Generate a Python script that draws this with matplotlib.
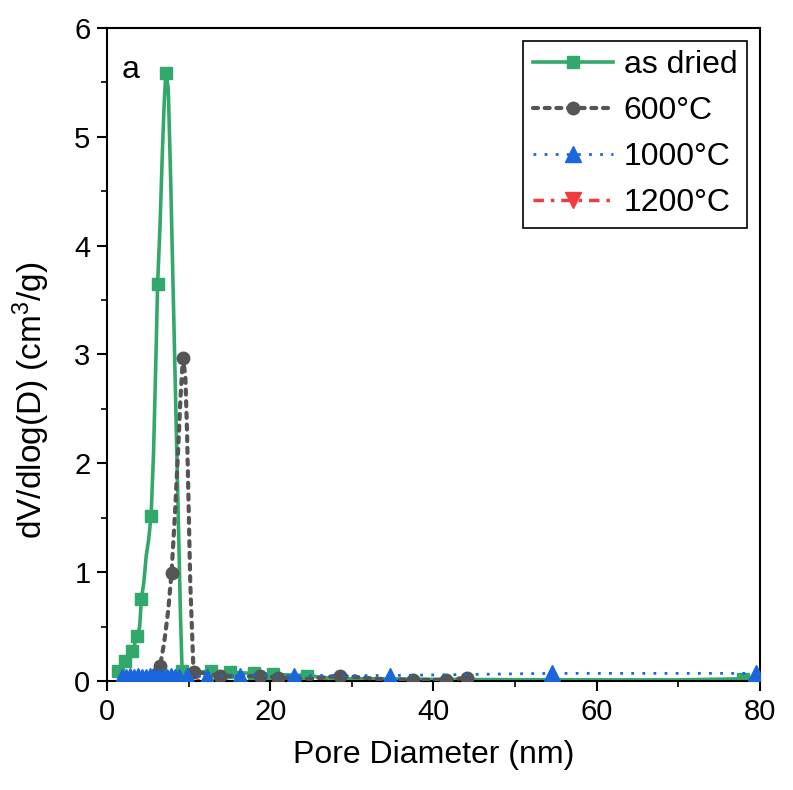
import matplotlib
matplotlib.use("Agg")
import matplotlib.pyplot as plt
from matplotlib.lines import Line2D
from matplotlib.ticker import MultipleLocator

plt.rcParams['font.family'] = ['Liberation Sans', 'DejaVu Sans']
plt.rcParams['mathtext.fontset'] = 'custom'
plt.rcParams['mathtext.rm'] = 'Liberation Sans'
plt.rcParams['mathtext.it'] = 'Liberation Sans'

# as dried
x_dried = [1.3, 1.8, 2.2, 2.6, 3.0, 3.3, 3.7, 4.0, 4.2, 4.5, 4.8, 5.1, 5.4, 5.7, 6.0, 6.2, 6.5, 6.8, 7.0,
           7.2, 7.5, 7.8, 8.1, 8.4, 8.7, 9.0, 9.2, 10.0, 11.0, 12.7, 15.1, 18.0, 20.4, 24.5, 28, 33, 40,
           50, 60, 70, 78, 80]
y_dried = [0.09, 0.11, 0.18, 0.2, 0.28, 0.32, 0.41, 0.5, 0.75, 0.9, 1.15, 1.3, 1.52, 2.1, 3.0, 3.65, 4.2,
           4.9, 5.3, 5.59, 5.45, 4.6, 3.6, 2.6, 1.6, 0.6, 0.09, 0.09, 0.08, 0.09, 0.08, 0.07, 0.06, 0.05,
           0.02, 0.02, 0.015, 0.012, 0.01, 0.01, 0.02, 0.01]
mk_dried = [0, 2, 4, 6, 8, 12, 15, 19, 26, 29, 30, 31, 32, 33, 40]

# 600 C
x_600 = [1.5, 3.0, 4.5, 5.5, 6.5, 7.0, 7.5, 7.9, 8.3, 8.7, 9.0, 9.3, 9.6, 9.8, 10.0, 10.2, 10.6, 12.0,
         13.9, 16.5, 18.8, 21.0, 25.0, 28.6, 33, 37.5, 41.6, 44.1]
y_600 = [0.02, 0.03, 0.05, 0.08, 0.14, 0.35, 0.65, 0.99, 1.5, 2.1, 2.6, 2.97, 2.8, 2.3, 1.6, 0.9, 0.08,
         0.07, 0.05, 0.04, 0.05, 0.03, 0.02, 0.05, 0.02, 0.01, 0.01, 0.03]
mk_600 = [4, 7, 11, 16, 18, 20, 21, 23, 25, 26, 27]

# 1000 C
x_1000 = [1.8, 2.3, 2.8, 3.3, 3.8, 4.3, 4.8, 5.3, 5.8, 6.3, 6.8, 7.3, 7.8, 8.3, 8.8, 9.8, 12.2, 16.3,
          22.9, 34.7, 54.5, 79.6]
y_1000 = [0.04, 0.04, 0.05, 0.04, 0.05, 0.04, 0.04, 0.05, 0.04, 0.04, 0.05, 0.04, 0.05, 0.04, 0.04,
          0.05, 0.04, 0.05, 0.05, 0.05, 0.07, 0.07]

# 1200 C
x_1200 = [2.0, 4.0, 6.0, 8.0, 10.0, 15.0, 20.0, 30.0, 40.0, 60.0, 80.0]
y_1200 = [0.01, 0.01, 0.01, 0.01, 0.01, 0.01, 0.01, 0.01, 0.01, 0.01, 0.01]
mk_1200 = [1, 2, 3]

labels = ['as dried', '600\u00b0C', '1000\u00b0C', '1200\u00b0C']

green = '#33a86b'
gray = '#555555'
blue = '#1a66dd'
red = '#f03c3c'

st_dried = dict(color=green, lw=2.6, ls='-', marker='s', ms=9)
st_600 = dict(color=gray, lw=3, ls=(0, (1.2, 1.6)), marker='o', ms=9, dash_capstyle='round')
st_1000 = dict(color=blue, lw=2, ls=(0, (1, 3)), marker='^', ms=11)
st_1200 = dict(color=red, lw=2.5, ls=(0, (3, 2, 1, 2)), marker='v', ms=11)

fig = plt.figure(figsize=(7.93, 7.90), dpi=100)
ax = fig.add_axes([0.135, 0.138, 0.823, 0.8266])

ax.plot(x_1200, y_1200, markevery=mk_1200, zorder=1, **st_1200)
ax.plot(x_dried, y_dried, markevery=mk_dried, zorder=2, **st_dried)
ax.plot(x_600, y_600, markevery=mk_600, zorder=3, **st_600)
ax.plot(x_1000, y_1000, zorder=4, **st_1000)

ax.set_xlim(0, 80)
ax.set_ylim(0, 6)
ax.xaxis.set_major_locator(MultipleLocator(20))
ax.xaxis.set_minor_locator(MultipleLocator(10))
ax.yaxis.set_major_locator(MultipleLocator(1))
ax.yaxis.set_minor_locator(MultipleLocator(0.5))
ax.tick_params(which='major', length=7, width=1.5, labelsize=21, direction='out', pad=5)
ax.tick_params(which='minor', length=4, width=1.2, direction='out')
for s in ax.spines.values():
    s.set_linewidth(1.5)

ax.set_xlabel('Pore Diameter (nm)', fontsize=23, labelpad=10)
ax.set_ylabel('dV/dlog(D) (cm$^3$/g)', fontsize=24)
ax.yaxis.set_label_coords(-0.085, 0.43)
ax.text(0.022, 0.936, 'a', transform=ax.transAxes, fontsize=23, va='center', ha='left')

handles = [Line2D([], [], **st) for st in (st_dried, st_600, st_1000, st_1200)]
leg = ax.legend(handles, labels, loc='upper right', fontsize=23, numpoints=1, handlelength=2.5,
                labelspacing=0.5, handletextpad=0.35, borderaxespad=0.4, fancybox=False,
                edgecolor='black', framealpha=1, borderpad=0.3)
leg.get_frame().set_linewidth(1.2)

fig.savefig('out.png', dpi=100)
